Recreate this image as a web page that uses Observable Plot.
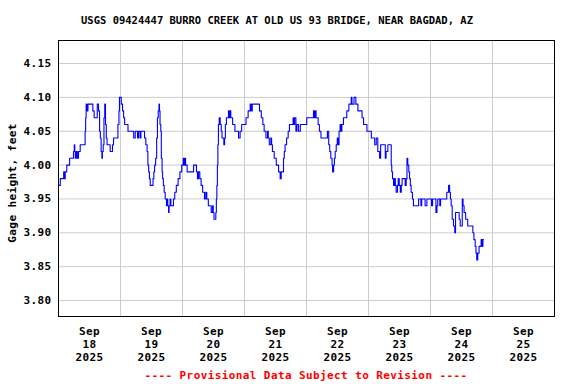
<!DOCTYPE html>
<html>
<head>
<meta charset="utf-8">
<script src="https://cdn.jsdelivr.net/npm/d3@7"></script>
<script src="https://cdn.jsdelivr.net/npm/@observablehq/plot@0.6"></script>
<style>
  html, body { margin: 0; padding: 0; background: #fff; }
</style>
</head>
<body>
<div id="chart"></div>
<script>
const title = "USGS 09424447 BURRO CREEK AT OLD US 93 BRIDGE, NEAR BAGDAD, AZ";
const yLabel = "Gage height, feet";
const footer = "---- Provisional Data Subject to Revision ----";
const startDate = [2025, 8, 18]; // Sep 18 2025, 00:00
const dayLabels = ["18", "19", "20", "21", "22", "23", "24", "25"];
const yTicks = [3.80, 3.85, 3.90, 3.95, 4.00, 4.05, 4.10, 4.15];
const yDomain = [3.7764, 4.184];

// hours after Sep 18 00:00, gage height (ft)
const hours = [0,0.7,2.0,2.3,2.6,3.2,4.3,5.8,6.1,6.3,6.5,6.9,7.3,7.75,8.4,10.3,10.5,10.7,11.0,11.4,13.3,13.8,15.0,15.5,15.9,16.2,16.5,16.8,17.0,17.3,17.6,17.9,18.2,18.5,18.8,20.0,20.9,21.3,23.0,23.4,23.6,24.3,24.8,25.2,25.6,26.9,29.1,29.7,30.6,31.0,31.6,31.9,33.3,33.8,34.3,34.6,34.9,35.2,35.5,36.6,36.9,37.2,37.6,38.0,38.3,38.6,38.9,39.1,39.3,39.6,39.8,40.1,40.3,40.6,40.9,41.3,41.8,42.0,42.3,42.6,42.8,43.2,43.5,44.5,45.0,45.6,46.3,47.0,47.7,48.3,48.6,48.9,49.2,49.8,52.3,53.4,53.8,54.2,54.7,55.2,55.8,56.5,57.0,57.4,58.0,59.1,59.6,59.9,60.2,60.9,61.1,61.3,61.5,61.7,61.9,62.2,62.6,63.0,63.3,64.0,64.3,64.6,65.0,65.8,66.1,66.3,66.7,67.4,68.3,69.7,70.3,70.9,72.6,73.4,74.2,74.6,75.0,77.8,78.5,79.1,79.6,80.3,80.9,81.2,81.6,82.2,82.5,82.8,83.5,84.3,85.2,85.8,86.2,87.1,87.4,87.7,88.3,88.9,89.4,90.8,91.0,91.4,91.9,92.3,92.9,93.6,96.1,98.7,99.1,99.4,99.7,100.5,101.0,101.6,104.1,104.6,105.0,105.4,105.9,106.1,106.5,106.8,107.1,107.5,107.9,108.2,108.6,109.0,109.4,109.7,110.3,111.6,112.4,113.3,113.6,114.4,115.1,115.9,117.5,118.1,119.4,121.1,122.4,123.0,123.6,124.3,124.7,126.5,126.8,127.5,128.8,129.0,129.3,129.7,130.1,130.4,130.7,131.2,131.5,131.9,132.3,132.7,133.0,134.2,134.6,134.9,135.2,135.6,135.9,136.2,136.5,137.0,137.4,139.4,140.3,140.6,141.9,142.6,144.4,144.8,146.1,146.5,146.8,147.6,147.9,150.3,151.0,151.4,151.7,152.0,152.4,152.9,153.4,153.7,155.1,155.5,156.3,156.6,157.0,157.6,158.4,160.4,160.8,161.3,161.6,161.9,162.3,162.8,163.6,164.0,164.3,164.5];
const gage = [3.97,3.98,3.99,3.98,3.99,4.00,4.01,4.02,4.03,4.02,4.01,4.02,4.01,4.02,4.03,4.05,4.07,4.09,4.08,4.09,4.08,4.07,4.09,4.08,4.05,4.04,4.02,4.01,4.02,4.03,4.07,4.09,4.06,4.04,4.03,4.02,4.03,4.04,4.06,4.08,4.10,4.09,4.08,4.07,4.06,4.05,4.04,4.05,4.04,4.05,4.04,4.05,4.04,4.03,4.02,4.00,3.99,3.98,3.97,3.98,3.99,4.00,4.01,4.04,4.07,4.08,4.09,4.08,4.06,4.05,4.01,3.99,3.98,3.97,3.96,3.95,3.94,3.95,3.94,3.93,3.94,3.95,3.94,3.95,3.96,3.97,3.98,3.99,4.00,4.01,4.00,4.01,4.00,3.99,4.00,3.99,3.98,3.99,3.98,3.97,3.96,3.95,3.96,3.95,3.94,3.93,3.94,3.93,3.92,3.93,3.95,3.97,4.00,4.03,4.06,4.07,4.06,4.05,4.04,4.03,4.04,4.06,4.07,4.08,4.07,4.08,4.07,4.06,4.05,4.04,4.05,4.06,4.07,4.08,4.09,4.08,4.09,4.08,4.07,4.06,4.05,4.04,4.05,4.04,4.03,4.04,4.03,4.02,4.01,4.00,3.99,3.98,3.99,4.01,4.02,4.03,4.04,4.05,4.06,4.07,4.06,4.07,4.05,4.06,4.05,4.06,4.07,4.08,4.07,4.08,4.07,4.06,4.05,4.04,4.05,4.03,4.02,4.01,4.00,3.99,4.00,4.01,4.02,4.03,4.04,4.03,4.05,4.06,4.05,4.06,4.07,4.08,4.09,4.10,4.09,4.10,4.09,4.08,4.07,4.06,4.05,4.04,4.03,4.04,4.02,4.01,4.03,4.01,4.02,4.03,4.00,3.99,3.98,3.97,3.98,3.97,3.96,3.97,3.98,3.97,3.96,3.97,3.98,3.97,3.98,4.01,4.00,3.99,3.98,3.97,3.96,3.95,3.94,3.95,3.94,3.95,3.94,3.95,3.94,3.95,3.93,3.94,3.95,3.94,3.95,3.96,3.97,3.96,3.95,3.94,3.92,3.91,3.90,3.93,3.92,3.91,3.95,3.94,3.93,3.92,3.91,3.90,3.89,3.88,3.87,3.86,3.87,3.88,3.89,3.88,3.89,3.89];

const t0 = Date.UTC(startDate[0], startDate[1], startDate[2]);
const HOUR = 3600e3;
const series = hours.map((h, i) => ({date: new Date(t0 + h * HOUR), value: gage[i]}));
const noonTicks = dayLabels.map((d, i) => new Date(t0 + (i * 24 + 12) * HOUR));
const midnights = d3.range(1, dayLabels.length).map(i => new Date(t0 + i * 24 * HOUR));
const xDomain = [new Date(t0), new Date(t0 + dayLabels.length * 24 * HOUR)];

const mono = "'DejaVu Sans Mono', 'Liberation Mono', monospace";

const plot = Plot.plot({
  width: 576,
  height: 384,
  marginLeft: 58,
  marginRight: 22,
  marginTop: 40,
  marginBottom: 68,
  style: {fontFamily: mono, fontSize: "11px", fontWeight: "bold", letterSpacing: "0.4px", background: "#fff", color: "#000"},
  x: {type: "utc", domain: xDomain},
  y: {domain: yDomain},
  marks: [
    Plot.ruleX(midnights, {stroke: "#cccccc", strokeWidth: 1}),
    Plot.ruleY(yTicks, {stroke: "#cccccc", strokeWidth: 1}),
    Plot.line(series, {x: "date", y: "value", stroke: "#0000ff", strokeWidth: 1.1, curve: "step-after"}),
    Plot.frame({stroke: "#000", strokeWidth: 1}),
    Plot.axisY({ticks: yTicks, tickFormat: d3.format(".2f"), tickSize: 0, tickPadding: 7, label: null, fill: "#000"}),
    Plot.axisX({ticks: noonTicks, tickFormat: (d, i) => `Sep\n${dayLabels[i]}\n2025`, tickSize: 0, tickPadding: 10, lineHeight: 1.15, label: null, fill: "#000"}),
    Plot.text([title], {frameAnchor: "top", textAnchor: "middle", lineAnchor: "middle", dx: -29.5, dy: -19.7, fontSize: 10.5, fill: "#000"}),
    Plot.text([yLabel], {frameAnchor: "left", textAnchor: "middle", lineAnchor: "middle", rotate: -90, dx: -46, dy: 4.5, fill: "#000"}),
    Plot.text([footer], {frameAnchor: "bottom", textAnchor: "middle", lineAnchor: "middle", dx: -0.5, dy: 59, fill: "#ff0000"})
  ]
});
d3.select(plot).selectAll("text").filter(function() { return this.textContent === title; }).style("letter-spacing", "0px");
document.getElementById("chart").appendChild(plot);
</script>
</body>
</html>
